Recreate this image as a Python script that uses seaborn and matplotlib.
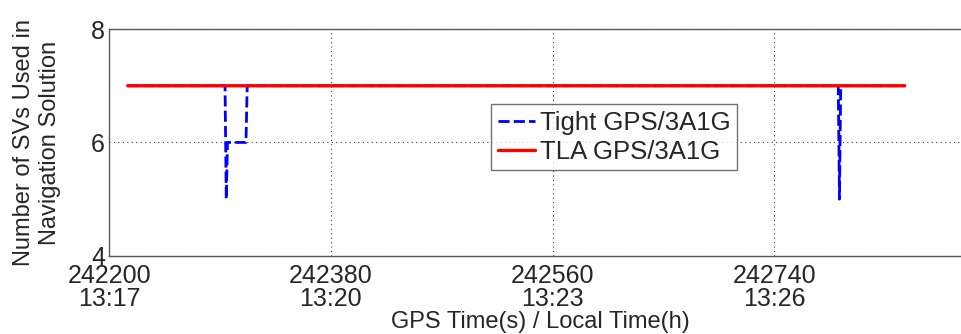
import matplotlib
matplotlib.use("Agg")
import matplotlib.pyplot as plt
import seaborn as sns
import pandas as pd

# Number of satellites used in the navigation solution
tight_time = [242215, 242294, 242295, 242296, 242311, 242312, 242792, 242793, 242794, 242846]
tight_svs = [7, 7, 5, 6, 6, 7, 7, 5, 7, 7]
tla_time = [242215, 242846]
tla_svs = [7, 7]

gps_ticks = [242200, 242380, 242560, 242740]
local_ticks = ["13:17", "13:20", "13:23", "13:26"]
y_ticks = [4, 6, 8]

sns.set_style("white")
plt.rcParams["font.family"] = ["Liberation Sans", "DejaVu Sans"]

fig = plt.figure(figsize=(9.62, 3.34), dpi=100)
ax = fig.add_axes([0.1136, 0.234, 0.896, 0.679])

df_tight = pd.DataFrame({"t": tight_time, "n": tight_svs})
df_tla = pd.DataFrame({"t": tla_time, "n": tla_svs})

sns.lineplot(data=df_tight, x="t", y="n", ax=ax, sort=False, estimator=None,
             color=(0, 0, 1), lw=2.0, linestyle=(0, (4, 1.5)), label="Tight GPS/3A1G",
             zorder=2)
sns.lineplot(data=df_tla, x="t", y="n", ax=ax, sort=False, estimator=None,
             color=(1, 0, 0), lw=2.4, label="TLA GPS/3A1G", zorder=3)
for line in ax.lines:
    line.set_snap(False)

ax.set_xlim(242200, 242900)
ax.set_ylim(4, 8)
ax.set_xticks(gps_ticks)
ax.set_xticklabels([f"{g}\n{l}" for g, l in zip(gps_ticks, local_ticks)],
                   fontsize=18, linespacing=0.95)
ax.set_yticks(y_ticks)
ax.set_yticklabels([str(v) for v in y_ticks], fontsize=18)
ax.tick_params(direction="in", length=5, width=0.8, color="0.2", pad=3)
ax.tick_params(axis="x", pad=6)

ax.grid(True, linestyle=(0, (1, 3)), color="0.25", lw=0.8)
for s in ax.spines.values():
    s.set_color("0.35")
    s.set_linewidth(1.0)

ax.set_xlabel("GPS Time(s) / Local Time(h)", fontsize=17, labelpad=0)
ax.set_ylabel("Number of SVs Used in\nNavigation Solution", fontsize=17,
              linespacing=1.2, labelpad=22)

leg = ax.legend(loc="upper left", bbox_to_anchor=(0.443, 0.668), fontsize=18.5,
                frameon=True, fancybox=False, edgecolor="0.3", handlelength=1.45,
                handletextpad=0.2, borderpad=0.25, labelspacing=0.2, borderaxespad=0)
leg.get_frame().set_linewidth(1.0)

fig.savefig("out.png", dpi=100)
